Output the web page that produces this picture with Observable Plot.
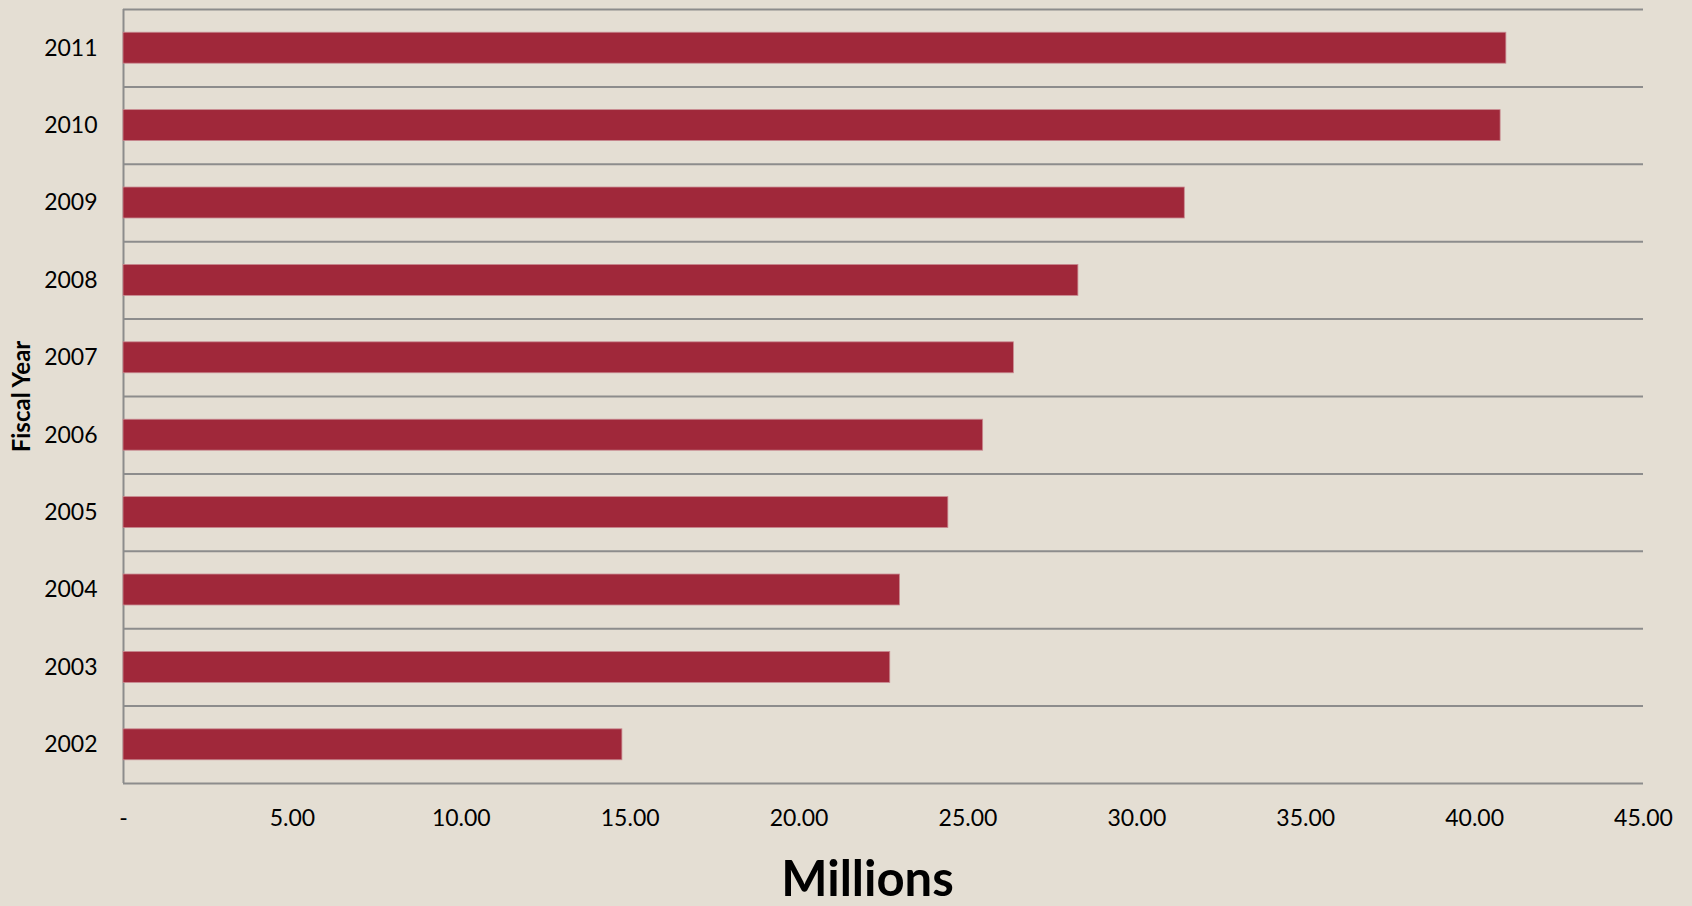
<!DOCTYPE html>
<html>
<head>
<meta charset="utf-8">
<script src="https://cdn.jsdelivr.net/npm/d3@7"></script>
<script src="https://cdn.jsdelivr.net/npm/@observablehq/plot@0.6"></script>
<style>
  html, body { margin: 0; padding: 0; background: #E4DED3; }
</style>
</head>
<body>
<div id="chart"></div>
<script>
const years = [2002, 2003, 2004, 2005, 2006, 2007, 2008, 2009, 2010, 2011];
const values = [14.77, 22.70, 22.99, 24.42, 25.45, 26.36, 28.27, 31.42, 40.77, 40.94];
const xTicks = [0, 5, 10, 15, 20, 25, 30, 35, 40, 45];
const xTickLabels = ["-", "5.00", "10.00", "15.00", "20.00", "25.00", "30.00", "35.00", "40.00", "45.00"];
const boundaries = [2001.5, 2002.5, 2003.5, 2004.5, 2005.5, 2006.5, 2007.5, 2008.5, 2009.5, 2010.5, 2011.5];

const data = years.map((year, i) => ({year, value: values[i]}));
const half = 0.2;
const grid = "#8C8C8C";

const chart = Plot.plot({
  width: 1692,
  height: 906,
  marginLeft: 123,
  marginRight: 49,
  marginTop: 9,
  marginBottom: 123,
  style: {background: "#E4DED3", fontFamily: "Lato, 'Open Sans', sans-serif", fontSize: "23px", color: "#000"},
  x: {domain: [0, 45]},
  y: {domain: [2001.5, 2011.5]},
  marks: [
    Plot.ruleY(boundaries, {stroke: grid, strokeWidth: 2}),
    Plot.ruleX([0], {stroke: grid, strokeWidth: 2}),
    Plot.rect(data, {
      x1: 0, x2: "value",
      y1: d => d.year - half, y2: d => d.year + half,
      fill: "#A0283A", stroke: "#C98A91", strokeWidth: 0.8
    }),
    Plot.axisX({ticks: xTicks, tickFormat: d => xTickLabels[xTicks.indexOf(d)], tickSize: 0, tickPadding: 26, label: null, fill: "#000"}),
    Plot.axisY({ticks: years, tickFormat: d => String(d), tickSize: 0, tickPadding: 26, label: null, fill: "#000"}),
    Plot.text(["Millions"], {text: d => d, frameAnchor: "bottom", textAnchor: "middle", dx: -16, dy: 97, fontSize: 49, fontWeight: "bold", lineAnchor: "middle", fill: "#000"}),
    Plot.text(["Fiscal Year"], {text: d => d, frameAnchor: "left", textAnchor: "middle", dx: -101, rotate: -90, fontSize: 24, fontWeight: "bold", fill: "#000"})
  ]
});
document.getElementById("chart").appendChild(chart);
</script>
</body>
</html>
